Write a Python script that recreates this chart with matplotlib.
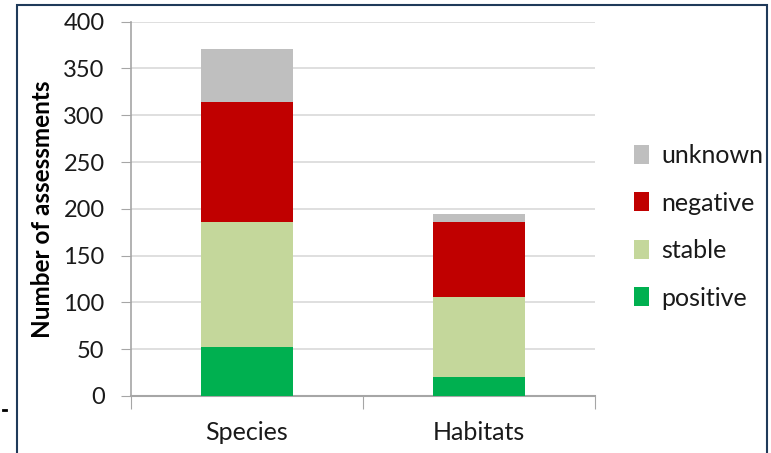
import matplotlib.pyplot as plt
from matplotlib.patches import Rectangle
from matplotlib.lines import Line2D

categories = ["Species", "Habitats"]
positive = [52, 20]
stable = [134, 86]
negative = [128, 80]
unknown = [57, 9]

series = [
    ("positive", positive, "#00b050"),
    ("stable", stable, "#c4d79b"),
    ("negative", negative, "#c00000"),
    ("unknown", unknown, "#bfbfbf"),
]


def main():
    plt.rcParams['font.family'] = ['Lato', 'DejaVu Sans']
    plt.rcParams['text.color'] = "#1a1a1a"
    fig = plt.figure(figsize=(7.71, 4.53), dpi=100)
    ax = fig.add_axes([131 / 771, 1 - 396 / 453, 464 / 771, 374.3 / 453])

    x = list(range(len(categories)))
    bottom = [0] * len(categories)
    handles = []
    for name, vals, color in series:
        bars = ax.bar(x, vals, width=0.4, bottom=bottom, color=color,
                      zorder=3, label=name)
        handles.append(bars)
        bottom = [b + v for b, v in zip(bottom, vals)]

    ax.set_xlim(-0.5, 1.5)
    ax.set_ylim(0, 400)
    ax.set_yticks(range(0, 401, 50))
    ax.yaxis.grid(True, color="#d9d9d9", linewidth=1.2, zorder=0)
    for s in ["top", "right"]:
        ax.spines[s].set_visible(False)
    ax.spines["left"].set_color("#a6a6a6")
    ax.spines["bottom"].set_color("#a6a6a6")
    ax.spines["left"].set_linewidth(1.2)
    ax.spines["bottom"].set_linewidth(1.5)

    # category labels between boundary ticks
    ax.set_xticks([-0.5, 0.5, 1.5])
    ax.set_xticklabels([])
    ax.set_xticks(x, minor=True)
    ax.set_xticklabels(categories, minor=True, fontsize=18, color="#1a1a1a")
    ax.tick_params(axis="x", which="major", length=9, color="#a6a6a6",
                   direction="out")
    ax.tick_params(axis="x", which="minor", length=0, pad=18)
    ax.tick_params(axis="y", length=7, color="#a6a6a6", labelsize=17, pad=12,
                   labelcolor="#1a1a1a")

    ax.set_ylabel("Number of assessments", fontsize=17.5, fontweight="bold",
                  labelpad=7)

    ax.legend(handles[::-1], [s[0] for s in series][::-1],
              loc="center left", bbox_to_anchor=(1.035, 0.452),
              frameon=False, fontsize=18, handlelength=0.6,
              handleheight=0.8, handletextpad=0.5, labelspacing=0.98)

    # outer frame of the original picture
    fig.patches.append(Rectangle((17 / 771, -0.05), 750 / 771, 1.04 - 5 / 453 + 0.01,
                                 transform=fig.transFigure, fill=False,
                                 edgecolor="#1f3a5a", linewidth=1.5))
    fig.lines.append(Line2D([3 / 771, 6 / 771], [1 - 410 / 453, 1 - 410 / 453],
                            transform=fig.transFigure, color="black",
                            linewidth=2))

    fig.savefig("out.png", dpi=100)


if __name__ == "__main__":
    main()
